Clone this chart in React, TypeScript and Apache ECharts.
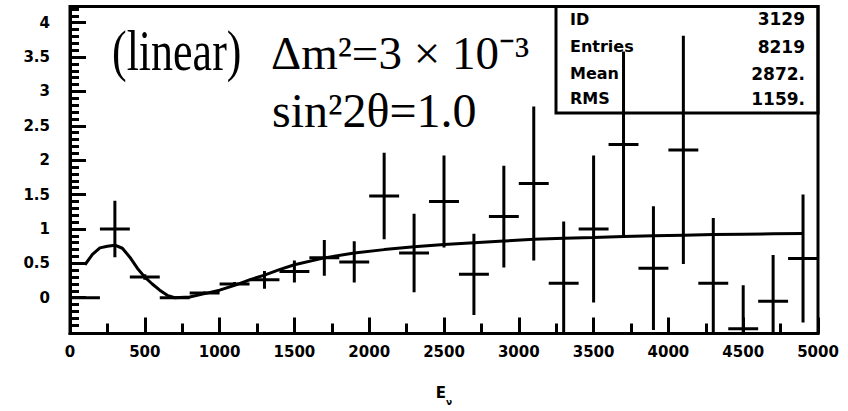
import React, { useEffect, useRef } from "react";
import * as echarts from "echarts";

// Measured spectrum, 200-wide energy bins (bin centres)
const binCenters = [
  100, 300, 500, 700, 900, 1100, 1300, 1500, 1700, 1900, 2100, 2300, 2500,
  2700, 2900, 3100, 3300, 3500, 3700, 3900, 4100, 4300, 4500, 4700, 4900,
];
const binValues = [
  0, 1.0, 0.3, 0, 0.07, 0.2, 0.26, 0.38, 0.58, 0.52, 1.48, 0.65, 1.4, 0.34,
  1.18, 1.66, 0.21, 1.0, 2.23, 0.43, 2.15, 0.21, -0.45, -0.05, 0.57,
];
const binErrors = [
  0, 0.41, 0.04, 0, 0.02, 0.03, 0.13, 0.16, 0.26, 0.3, 0.63, 0.57, 0.67, 0.59,
  0.74, 1.12, 0.9, 1.07, 1.35, 0.9, 1.66, 0.95, 0.63, 0.67, 0.93,
];
const BIN_HALF_WIDTH = 100;

// Expected spectrum for the oscillation hypothesis
const theoryEnergy = [
  100, 150, 200, 250, 300, 350, 400, 450, 500, 550, 600, 650, 700, 800, 900,
  1000, 1100, 1200, 1300, 1400, 1500, 1700, 1900, 2100, 2300, 2500, 2700, 2900,
  3100, 3300, 3500, 3700, 3900, 4100, 4300, 4500, 4700, 4900,
];
const theoryValues = [
  0.48, 0.63, 0.725, 0.75, 0.765, 0.72, 0.59, 0.43, 0.3, 0.2, 0.11, 0.035, 0,
  0.01, 0.06, 0.11, 0.18, 0.26, 0.33, 0.41, 0.48, 0.58, 0.65, 0.7, 0.74, 0.775,
  0.8, 0.825, 0.85, 0.865, 0.875, 0.89, 0.9, 0.91, 0.92, 0.925, 0.93, 0.935,
];

// Axis ticks and labels
const xMajorTicks = [0, 500, 1000, 1500, 2000, 2500, 3000, 3500, 4000, 4500, 5000];
const xTickLabels = ["0", "500", "1000", "1500", "2000", "2500", "3000", "3500", "4000", "4500", "5000"];
const xMinorTicks = [250, 750, 1250, 1750, 2250, 2750, 3250, 3750, 4250, 4750];
const yMajorTicks = [0, 0.5, 1, 1.5, 2, 2.5, 3, 3.5, 4];
const yTickLabels = ["0", "0.5", "1", "1.5", "2", "2.5", "3", "3.5", "4"];

// Statistics box
const statNames = ["ID", "Entries", "Mean", "RMS"];
const statValues = ["3129", "8219", "2872.", "1159."];

const X_MIN = 0;
const X_MAX = 5000;
const Y_MIN = -0.52;
const Y_MAX = 4.236;

const yMinorTicks: number[] = [];
for (let t = -4; t <= 42; t++) {
  if (t % 5 !== 0) yMinorTicks.push(t / 10);
}

const INK = "#000";
const PIXEL_FONT = "'DejaVu Sans', sans-serif";
const SERIF = "'Liberation Serif', 'Times New Roman', serif";

function labelFor(ticks: number[], labels: string[]) {
  return (v: number) => {
    const i = ticks.findIndex((t) => Math.abs(t - v) < 1e-9);
    return i >= 0 ? labels[i] : "";
  };
}

export default function App() {
  const ref = useRef<HTMLDivElement>(null);

  useEffect(() => {
    document.body.style.margin = "0";
    if (!ref.current) return;
    const chart = echarts.init(ref.current, undefined, { renderer: "svg" });

    const tickLabelStyle = {
      color: INK,
      fontFamily: PIXEL_FONT,
      fontWeight: "bold" as const,
      fontSize: 15,
    };

    const crosses = binCenters.map((c, i) => [c, binValues[i], binErrors[i]]);
    const theory = theoryEnergy.map((e, i) => [e, theoryValues[i]]);

    const statTexts: any[] = [];
    const rowY = [19, 46.5, 73.5, 98.5];
    statNames.forEach((name, i) => {
      statTexts.push({
        type: "text",
        x: 570,
        y: rowY[i],
        style: {
          text: name,
          fill: INK,
          font: `bold 16px ${PIXEL_FONT}`,
          align: "left",
          verticalAlign: "middle",
        },
      });
      statTexts.push({
        type: "text",
        x: 805,
        y: rowY[i],
        style: {
          text: statValues[i],
          fill: INK,
          font: `bold 17px ${PIXEL_FONT}`,
          align: "right",
          verticalAlign: "middle",
        },
      });
    });

    chart.setOption({
      animation: false,
      backgroundColor: "#fff",
      grid: {
        left: 70,
        right: 30,
        top: 6.5,
        bottom: 77.5,
        show: true,
        borderColor: INK,
        borderWidth: 3,
        outerBoundsMode: "none",
      },
      xAxis: [
        {
          type: "value",
          min: X_MIN,
          max: X_MAX,
          position: "bottom",
          axisLine: { show: true, onZero: false, lineStyle: { color: INK, width: 3 } },
          axisTick: {
            show: true,
            inside: true,
            length: 16,
            customValues: xMajorTicks,
            lineStyle: { color: INK, width: 3 },
          },
          axisLabel: {
            show: true,
            customValues: xMajorTicks,
            formatter: labelFor(xMajorTicks, xTickLabels),
            margin: 11,
            ...tickLabelStyle,
          },
          splitLine: { show: false },
          name: "{e|E}{s|ν}",
          nameLocation: "middle",
          nameGap: 52,
          nameTextStyle: {
            rich: {
              e: { fontFamily: PIXEL_FONT, fontWeight: "bold", fontSize: 15, color: INK },
              s: {
                fontFamily: PIXEL_FONT,
                fontWeight: "bold",
                fontSize: 9,
                color: INK,
                verticalAlign: "bottom",
                padding: [0, 0, -6, 0],
              },
            },
          },
        },
        {
          type: "value",
          min: X_MIN,
          max: X_MAX,
          position: "bottom",
          axisLine: { show: false, onZero: false },
          axisTick: {
            show: true,
            inside: true,
            length: 10,
            customValues: xMinorTicks,
            lineStyle: { color: INK, width: 3 },
          },
          axisLabel: { show: false },
          splitLine: { show: false },
        },
      ],
      yAxis: [
        {
          type: "value",
          min: Y_MIN,
          max: Y_MAX,
          position: "left",
          axisLine: { show: true, onZero: false, lineStyle: { color: INK, width: 3 } },
          axisTick: {
            show: true,
            inside: true,
            length: 16,
            customValues: yMajorTicks,
            lineStyle: { color: INK, width: 3 },
          },
          axisLabel: {
            show: true,
            customValues: yMajorTicks,
            formatter: labelFor(yMajorTicks, yTickLabels),
            margin: 20,
            ...tickLabelStyle,
          },
          splitLine: { show: false },
        },
        {
          type: "value",
          min: Y_MIN,
          max: Y_MAX,
          position: "left",
          axisLine: { show: false, onZero: false },
          axisTick: {
            show: true,
            inside: true,
            length: 9,
            customValues: yMinorTicks,
            lineStyle: { color: INK, width: 3 },
          },
          axisLabel: { show: false },
          splitLine: { show: false },
        },
      ],
      series: [
        {
          type: "line",
          xAxisIndex: 0,
          yAxisIndex: 0,
          data: theory,
          showSymbol: false,
          symbol: "none",
          lineStyle: { color: INK, width: 3 },
          clip: true,
          z: 2,
        },
        {
          type: "custom",
          xAxisIndex: 0,
          yAxisIndex: 0,
          data: crosses,
          encode: { x: 0, y: 1 },
          clip: true,
          z: 3,
          renderItem: (_params: any, api: any) => {
            const c = api.value(0);
            const v = api.value(1);
            const e = api.value(2);
            const lineStyle = { stroke: INK, lineWidth: 3, fill: "none" };
            const left = api.coord([c - BIN_HALF_WIDTH, v]);
            const right = api.coord([c + BIN_HALF_WIDTH, v]);
            const children: any[] = [
              {
                type: "line",
                shape: { x1: left[0], y1: left[1], x2: right[0], y2: right[1] },
                style: lineStyle,
              },
            ];
            if (e > 0) {
              const top = api.coord([c, v + e]);
              const bottom = api.coord([c, v - e]);
              children.push({
                type: "line",
                shape: { x1: top[0], y1: top[1], x2: bottom[0], y2: bottom[1] },
                style: lineStyle,
              });
            }
            return { type: "group", children };
          },
        },
      ],
      graphic: [
        // statistics box
        {
          type: "rect",
          shape: { x: 556, y: 6.5, width: 262, height: 106.5 },
          style: { fill: "none", stroke: INK, lineWidth: 3 },
          z: 10,
        },
        ...statTexts,
        // oscillation parameters
        {
          type: "text",
          x: 112,
          y: 50,
          scaleY: 1.32,
          style: {
            text: "(linear)",
            fill: INK,
            font: `44px ${SERIF}`,
            align: "left",
            verticalAlign: "middle",
          },
        },
        {
          type: "text",
          x: 271,
          y: 53,
          style: {
            text: "Δm²=3 × 10⁻³",
            fill: INK,
            font: `47px ${SERIF}`,
            align: "left",
            verticalAlign: "middle",
          },
        },
        {
          type: "text",
          x: 272,
          y: 110,
          style: {
            text: "sin²2θ=1.0",
            fill: INK,
            font: `48px ${SERIF}`,
            align: "left",
            verticalAlign: "middle",
          },
        },
      ],
    });

    return () => chart.dispose();
  }, []);

  return <div ref={ref} style={{ width: 848, height: 411 }} />;
}
